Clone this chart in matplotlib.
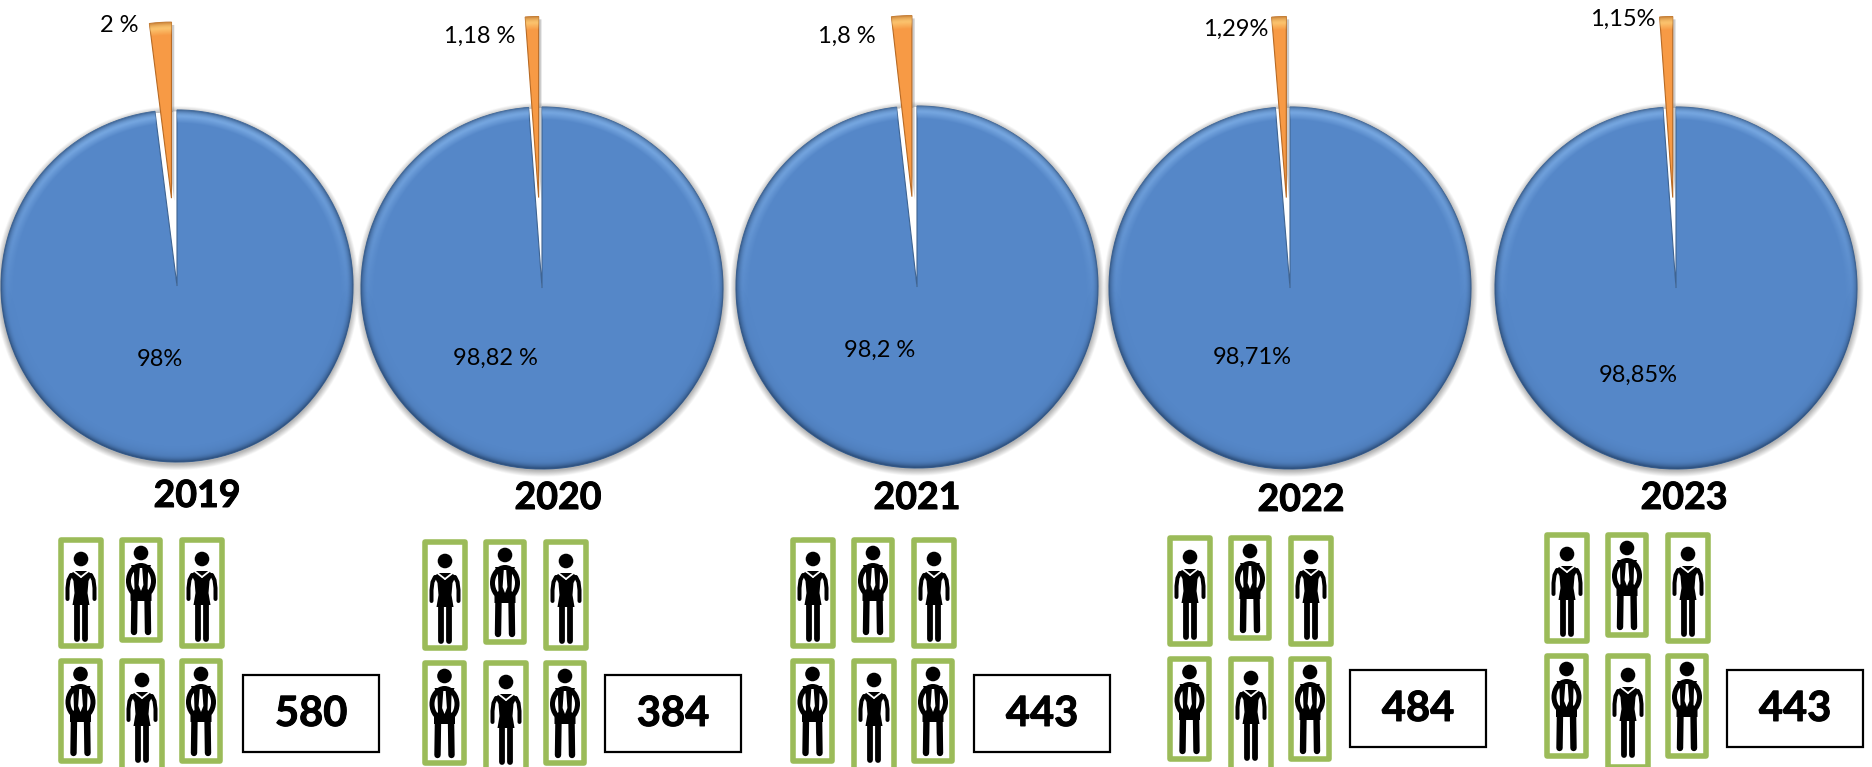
import matplotlib.patheffects as pe
import matplotlib.pyplot as plt
import numpy as np
from matplotlib.colors import to_rgb
from matplotlib.patches import Circle, Ellipse, Polygon, Rectangle

W, H = 1872, 767

years = ["2019", "2020", "2021", "2022", "2023"]
small_share = [2, 1.18, 1.8, 1.29, 1.15]
large_share = [98, 98.82, 98.2, 98.71, 98.85]
small_labels = ["2 %", "1,18 %", "1,8 %", "1,29%", "1,15%"]
large_labels = ["98%", "98,82 %", "98,2 %", "98,71%", "98,85%"]
counts = ["580", "384", "443", "484", "443"]

# layout in reference pixels
pie_x = [177, 542, 917, 1290, 1676]
pie_y = [286, 288, 287, 288, 288]
pie_r = [176, 181, 181, 181, 181]
small_pos = [(119, 26), (480, 36), (847, 36), (1236, 29), (1623, 19)]
large_pos = [(160, 359), (495, 358), (880, 350), (1252, 357), (1638, 375)]
year_pos = [(197, 496), (558, 498), (917, 498), (1301, 500), (1684, 498)]
group_dx = [0, 364, 732, 1109, 1486]
group_dy = [0, 2, 0, -2, -5]
box_dx = [0, 362, 731, 1107, 1484]
box_dy = [0, 0, 0, -5, -5]

# x0, y0, x1, y1, kind of each framed figure in the first group
frames = [
    (58, 537, 104, 649, "f"),
    (119, 537, 163, 643, "m"),
    (179, 537, 225, 649, "f"),
    (58, 658, 103, 764, "m"),
    (119, 658, 165, 775, "f"),
    (179, 658, 223, 764, "m"),
]

BLUE = "#5587C8"
ORANGE = "#F79A45"
GREEN = "#9BBB59"
FONT = "Lato"
BOLDER = [pe.withStroke(linewidth=0.7, foreground="black")]


def overlay(ax, wedge, color, alpha):
    img = np.zeros((*alpha.shape, 4))
    img[..., :3] = to_rgb(color)
    img[..., 3] = alpha
    cx, cy = wedge.center
    im = ax.imshow(img, extent=(cx - 1.05, cx + 1.05, cy - 1.05, cy + 1.05),
                   origin="lower", interpolation="bilinear", zorder=3)
    im.set_clip_path(wedge)


def shade(ax, wedge, light, dark):
    x, y = np.meshgrid(np.linspace(-1.05, 1.05, 700), np.linspace(-1.05, 1.05, 700))
    r = np.hypot(x, y) + 1e-6
    tilt = y / r
    glow = np.clip(tilt + 0.15, 0, 1) * np.clip((r - 0.925) / 0.04, 0, 1) * 0.6
    edge = np.clip((r - 0.96) / 0.04, 0, 1) ** 2 * 0.75
    edge = edge + np.clip(-tilt, 0, 1) * np.clip((r - 0.9) / 0.1, 0, 1) ** 2 * 0.4
    overlay(ax, wedge, light, glow)
    overlay(ax, wedge, dark, np.clip(edge, 0, 1))


def drop_shadow(ax):
    # only outside the circle, the gap left by the pulled slice stays white
    x, y = np.meshgrid(np.linspace(-1.1, 1.1, 500), np.linspace(-1.1, 1.1, 500))
    r = np.hypot(x, y + 0.012)
    alpha = np.clip((1.035 - r) / 0.035, 0, 1) * 0.45 * (np.hypot(x, y) > 0.99)
    img = np.zeros((*alpha.shape, 4))
    img[..., :3] = 0.35
    img[..., 3] = alpha
    ax.imshow(img, extent=(-1.1, 1.1, -1.1, 1.1), origin="lower", zorder=0)


def draw_pie(fig, i):
    r = pie_r[i]
    left, right, down, up = 1.1, 1.1, 1.1, 1.6
    ax = fig.add_axes([(pie_x[i] - left * r) / W,
                       1 - (pie_y[i] + down * r) / H,
                       (left + right) * r / W,
                       (down + up) * r / H])
    wedges, _ = ax.pie([small_share[i], large_share[i]], explode=(0.5, 0),
                       colors=[ORANGE, BLUE], startangle=90, radius=1,
                       wedgeprops={"linewidth": 0.8, "zorder": 2})
    wedges[0].set_edgecolor("#B86A24")
    wedges[1].set_edgecolor("#3F6492")
    wedges[0].set_path_effects([pe.SimplePatchShadow(offset=(2, -2), shadow_rgbFace="#808080", alpha=0.4), pe.Normal()])
    drop_shadow(ax)
    shade(ax, wedges[0], "#FFE08A", "#B86A24")
    shade(ax, wedges[1], "#8DBDF2", "#2F5280")
    ax.set_xlim(-left, right)
    ax.set_ylim(-down, up)
    ax.set_aspect("equal")
    ax.set_axis_off()


def limb(ax, xs, ys, px, color="black", z=5):
    ax.plot(xs, ys, color=color, lw=px * 0.72, solid_capstyle="round", solid_joinstyle="round", zorder=z)


def draw_man(ax, cx, y):
    ax.add_patch(Circle((cx, y), 7.3, fc="black", ec="none", zorder=5))
    ax.add_patch(Ellipse((cx, y + 28), 25, 31, fc="none", ec="black", lw=3.6, zorder=5))
    ax.add_patch(Polygon([(cx - 10, y + 12), (cx + 10, y + 12), (cx + 7, y + 20), (cx + 6.5, y + 36),
                          (cx + 10.5, y + 41), (cx + 10.5, y + 48), (cx - 10.5, y + 48), (cx - 10.5, y + 41),
                          (cx - 6.5, y + 36), (cx - 7, y + 20)],
                         fc="black", ec="none", zorder=5))
    ax.add_patch(Polygon([(cx - 1.2, y + 15), (cx + 1.2, y + 15), (cx + 2.4, y + 32), (cx, y + 38), (cx - 2.4, y + 32)],
                         fc="white", ec="none", zorder=6))
    limb(ax, [cx - 6.5, cx - 7], [y + 44, y + 79], 6.4)
    limb(ax, [cx + 6.5, cx + 7], [y + 44, y + 79], 6.4)


def draw_woman(ax, cx, y):
    ax.add_patch(Circle((cx, y), 7.3, fc="black", ec="none", zorder=5))
    ax.add_patch(Polygon([(cx - 6, y + 12), (cx + 6, y + 12), (cx + 11, y + 15), (cx + 7.5, y + 22), (cx + 6.5, y + 34),
                          (cx + 8.5, y + 46), (cx - 8.5, y + 46), (cx - 6.5, y + 34), (cx - 7.5, y + 22), (cx - 11, y + 15)],
                         fc="black", ec="none", zorder=5))
    for side in (-1, 1):
        limb(ax, [cx + side * 7, cx], [y + 12.5, y + 18], 1.8, color="white", z=6)
        limb(ax, [cx + side * 10, cx + side * 12.5, cx + side * 13.5, cx + side * 13.5],
             [y + 16, y + 21, y + 29, y + 40], 4)
        limb(ax, [cx + side * 4.2, cx + side * 4.2], [y + 44, y + 80], 5.8)


def draw_group(ax, i):
    dx, dy = group_dx[i], group_dy[i]
    for x0, y0, x1, y1, kind in frames:
        x0, x1, y0, y1 = x0 + dx, x1 + dx, y0 + dy, y1 + dy
        ax.add_patch(Rectangle((x0 + 2.8, y0 + 2.8), x1 - x0 - 5.6, y1 - y0 - 5.6, fc="white",
                               ec=GREEN, lw=4, joinstyle="round", zorder=4))
        cx = (x0 + x1) / 2
        if kind == "m":
            draw_man(ax, cx, y0 + 16)
        else:
            draw_woman(ax, cx, y0 + 22)

    bx, by = box_dx[i], box_dy[i]
    ax.add_patch(Rectangle((243 + bx, 675 + by), 136, 77, fc="white", ec="black", lw=1.6, zorder=4))
    ax.text(311 + bx, 714 + by, counts[i], fontsize=30, fontweight="bold", family=FONT,
            ha="center", va="center", zorder=6, path_effects=BOLDER)


fig = plt.figure(figsize=(W / 100, H / 100), dpi=100)
for i in range(len(years)):
    draw_pie(fig, i)

top = fig.add_axes([0, 0, 1, 1])
top.patch.set_alpha(0)
top.set_xlim(0, W)
top.set_ylim(H, 0)
top.set_axis_off()

for i, year in enumerate(years):
    top.text(*small_pos[i], small_labels[i], fontsize=17, family=FONT, ha="center", va="center")
    top.text(*large_pos[i], large_labels[i], fontsize=17, family=FONT, ha="center", va="center")
    top.text(*year_pos[i], year, fontsize=27, fontweight="bold", family=FONT, ha="center", va="center",
             path_effects=BOLDER)
    draw_group(top, i)

fig.savefig("out.png", dpi=100)
